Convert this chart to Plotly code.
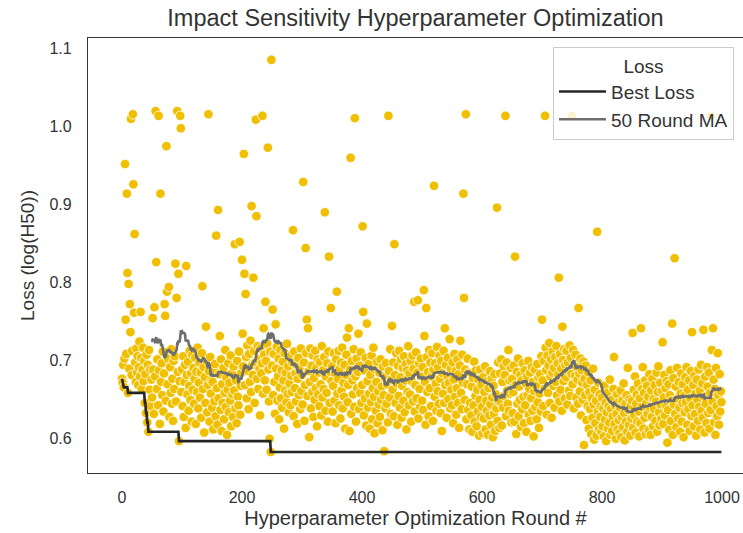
import pandas as pd
import plotly.graph_objects as go

# Loss per hyperparameter optimization round
loss = [
    0.676, 0.671, 0.694, 0.665, 0.702, 0.952, 0.752, 0.708, 0.914, 0.812,
    0.658, 0.798, 0.689, 0.772, 0.736, 1.010, 0.681, 0.712, 1.016, 0.926,
    0.761, 0.862, 0.697, 0.672, 0.715, 0.684, 0.705, 0.668, 0.691, 0.724,
    0.679, 0.762, 0.703, 0.663, 0.688, 0.716, 0.673, 0.699, 0.645, 0.682,
    0.632, 0.707, 0.620, 0.694, 0.608, 0.713, 0.662, 0.688, 0.641, 0.675,
    0.652, 0.754, 0.688, 0.631, 0.768, 0.679, 1.020, 0.826, 0.663, 0.701,
    0.642, 1.014, 0.687, 0.618, 0.914, 0.672, 0.696, 0.655, 0.711, 0.634,
    0.683, 0.772, 0.757, 0.648, 0.975, 0.788, 0.669, 0.702, 0.794, 0.627,
    0.691, 0.658, 0.714, 0.644, 0.676, 0.622, 0.699, 0.663, 0.705, 0.824,
    0.647, 0.780, 1.020, 0.685, 0.811, 0.596, 0.673, 1.014, 0.998, 0.659,
    0.688, 0.641, 0.705, 0.627, 0.672, 0.694, 0.613, 0.821, 0.681, 0.656,
    0.698, 0.635, 0.667, 0.712, 0.649, 0.683, 0.621, 0.707, 0.662, 0.690,
    0.644, 0.676, 0.703, 0.618, 0.685, 0.659, 0.716, 0.638, 0.671, 0.697,
    0.652, 0.684, 0.626, 0.709, 0.795, 0.663, 0.691, 0.607, 0.678, 0.645,
    0.743, 0.699, 0.633, 0.668, 1.016, 0.686, 0.621, 0.704, 0.657, 0.674,
    0.639, 0.672, 0.611, 0.688, 0.647, 0.695, 0.628, 0.860, 0.664, 0.617,
    0.893, 0.651, 0.682, 0.731, 0.636, 0.701, 0.609, 0.669, 0.645, 0.690,
    0.624, 0.658, 0.713, 0.640, 0.677, 0.604, 0.662, 0.696, 0.633, 0.671,
    0.648, 0.706, 0.615, 0.683, 0.656, 0.627, 0.692, 0.661, 0.849, 0.638,
    0.674, 0.619, 0.699, 0.653, 0.642, 0.711, 0.852, 0.630, 0.667, 0.684,
    0.829, 0.734, 0.692, 0.965, 0.811, 0.668, 0.785, 0.704, 0.651, 0.719,
    0.686, 0.637, 0.708, 0.672, 0.725, 0.659, 0.898, 0.694, 0.681, 0.806,
    0.712, 0.645, 0.697, 1.009, 0.885, 0.676, 0.718, 0.663, 0.701, 0.689,
    0.629, 0.715, 0.683, 0.696, 1.014, 0.657, 0.741, 0.707, 0.674, 0.775,
    0.699, 0.662, 0.721, 0.973, 0.688, 0.647, 0.599, 0.711, 0.582, 1.086,
    0.693, 0.765, 0.655, 0.708, 0.672, 0.631, 0.746, 0.689, 0.717, 0.648,
    0.679, 0.702, 0.624, 0.665, 0.713, 0.651, 0.687, 0.639, 0.698, 0.674,
    0.612, 0.709, 0.661, 0.684, 0.646, 0.721, 0.657, 0.692, 0.633, 0.670,
    0.705, 0.642, 0.680, 0.659, 0.697, 0.867, 0.628, 0.711, 0.664, 0.683,
    0.647, 0.694, 0.618, 0.676, 0.703, 0.655, 0.688, 0.637, 0.715, 0.660,
    0.681, 0.643, 0.929, 0.697, 0.622, 0.668, 0.844, 0.709, 0.752, 0.654,
    0.741, 0.686, 0.601, 0.672, 0.715, 0.638, 0.693, 0.659, 0.706, 0.627,
    0.677, 0.649, 0.712, 0.664, 0.690, 0.615, 0.701, 0.656, 0.684, 0.641,
    0.698, 0.669, 0.629, 0.718, 0.652, 0.687, 0.663, 0.704, 0.890, 0.635,
    0.679, 0.658, 0.696, 0.621, 0.711, 0.833, 0.645, 0.685, 0.767, 0.673,
    0.692, 0.634, 0.667, 0.709, 0.648, 0.683, 0.619, 0.701, 0.788, 0.657,
    0.676, 0.712, 0.642, 0.689, 0.625, 0.697, 0.661, 0.716, 0.638, 0.671,
    0.653, 0.694, 0.612, 0.681, 0.707, 0.729, 0.646, 0.668, 0.741, 0.609,
    0.688, 0.960, 0.631, 0.699, 0.674, 0.656, 0.714, 0.640, 1.011, 0.679,
    0.621, 0.702, 0.664, 0.685, 0.734, 0.637, 0.693, 0.658, 0.710, 0.645,
    0.668, 0.872, 0.762, 0.629, 0.687, 0.651, 0.703, 0.616, 0.747, 0.673,
    0.639, 0.695, 0.657, 0.612, 0.681, 0.646, 0.706, 0.624, 0.664, 0.716,
    0.653, 0.606, 0.688, 0.635, 0.672, 0.698, 0.619, 0.660, 0.643, 0.684,
    0.627, 0.701, 0.649, 0.666, 0.610, 0.692, 0.655, 0.583, 0.678, 0.638,
    0.696, 0.644, 0.669, 0.620, 1.014, 0.686, 0.652, 0.714, 0.631, 0.675,
    0.744, 0.662, 0.697, 0.628, 0.849, 0.681, 0.645, 0.709, 0.670, 0.617,
    0.693, 0.654, 0.712, 0.639, 0.678, 0.701, 0.626, 0.667, 0.690, 0.648,
    0.705, 0.633, 0.674, 0.695, 0.611, 0.687, 0.659, 0.718, 0.642, 0.683,
    0.656, 0.699, 0.621, 0.673, 0.706, 0.647, 0.689, 0.775, 0.634, 0.668,
    0.710, 0.651, 0.684, 0.777, 0.625, 0.696, 0.663, 0.640, 0.702, 0.679,
    0.648, 0.691, 0.636, 0.790, 0.731, 0.672, 0.617, 0.767, 0.704, 0.659,
    0.685, 0.628, 0.713, 0.664, 0.697, 0.641, 0.679, 0.709, 0.622, 0.688,
    0.924, 0.653, 0.696, 0.670, 0.635, 0.717, 0.660, 0.691, 0.644, 0.706,
    0.676, 0.632, 0.699, 0.609, 0.683, 0.657, 0.712, 0.645, 0.741, 0.668,
    0.694, 0.626, 0.680, 0.703, 0.650, 0.671, 0.727, 0.638, 0.689, 0.662,
    0.642, 0.697, 0.619, 0.675, 0.708, 0.653, 0.686, 0.630, 0.664, 0.701,
    0.645, 0.682, 0.613, 0.693, 0.725, 0.658, 0.637, 0.707, 0.671, 0.914,
    0.780, 0.649, 0.688, 1.016, 0.624, 0.669, 0.702, 0.636, 0.684, 0.611,
    0.645, 0.683, 0.629, 0.666, 0.608, 0.677, 0.642, 0.698, 0.621, 0.654,
    0.687, 0.615, 0.662, 0.634, 0.675, 0.603, 0.649, 0.688, 0.627, 0.668,
    0.640, 0.606, 0.678, 0.625, 0.659, 0.692, 0.611, 0.648, 0.635, 0.673,
    0.604, 0.664, 0.629, 0.686, 0.643, 0.617, 0.676, 0.652, 0.601, 0.667,
    0.631, 0.682, 0.609, 0.656, 0.638, 0.896, 0.622, 0.697, 0.646, 0.613,
    0.683, 0.646, 0.701, 0.616, 0.672, 0.639, 0.692, 0.654, 0.681, 1.014,
    0.628, 0.697, 0.661, 0.644, 0.713, 0.635, 0.674, 0.657, 0.690, 0.620,
    0.676, 0.632, 0.659, 0.693, 0.621, 0.833, 0.668, 0.605, 0.685, 0.644,
    0.702, 0.628, 0.666, 0.649, 0.681, 0.614, 0.674, 0.637, 0.696, 0.653,
    0.619, 0.687, 0.642, 0.670, 0.608, 0.679, 0.655, 0.699, 0.630, 0.663,
    0.684, 0.622, 0.651, 0.691, 0.635, 0.672, 0.602, 0.660, 0.688, 0.640,
    0.667, 0.624, 0.695, 0.646, 0.678, 0.613, 0.657, 0.682, 0.634, 0.705,
    0.752, 0.674, 0.641, 0.699, 0.663, 1.014, 0.716, 0.687, 0.630, 0.706,
    0.658, 0.693, 0.722, 0.645, 0.679, 0.701, 0.626, 0.684, 0.711, 0.667,
    0.690, 0.639, 0.704, 0.672, 0.718, 0.655, 0.696, 0.681, 0.806, 0.647,
    0.708, 0.662, 0.689, 0.635, 0.743, 0.700, 0.673, 0.714, 0.651, 0.694,
    0.678, 0.712, 0.643, 0.697, 0.686, 0.661, 0.719, 0.654, 0.703, 0.682,
    1.014, 0.669, 0.713, 0.638, 0.695, 0.680, 0.707, 0.652, 0.691, 0.675,
    0.644, 0.767, 0.683, 0.660, 0.702, 0.629, 0.687, 0.671, 0.649, 0.698,
    0.591, 0.676, 0.655, 0.693, 0.623, 0.668, 0.641, 0.684, 0.612, 0.659,
    0.637, 0.674, 0.605, 0.651, 0.626, 0.689, 0.643, 0.598, 0.662, 0.619,
    0.648, 0.603, 0.865, 0.634, 0.671, 0.611, 0.656, 0.627, 0.640, 0.608,
    0.652, 0.615, 0.638, 0.602, 0.667, 0.624, 0.645, 0.596, 0.633, 0.658,
    0.612, 0.641, 0.620, 0.675, 0.604, 0.637, 0.649, 0.609, 0.628, 0.663,
    0.704, 0.618, 0.642, 0.599, 0.631, 0.656, 0.611, 0.646, 0.623, 0.606,
    0.639, 0.661, 0.601, 0.627, 0.648, 0.614, 0.670, 0.632, 0.597, 0.644,
    0.621, 0.655, 0.608, 0.690, 0.636, 0.617, 0.650, 0.603, 0.642, 0.625,
    0.648, 0.735, 0.613, 0.662, 0.629, 0.679, 0.607, 0.644, 0.656, 0.621,
    0.670, 0.634, 0.602, 0.651, 0.619, 0.741, 0.640, 0.663, 0.691, 0.612,
    0.658, 0.626, 0.674, 0.605, 0.645, 0.667, 0.631, 0.653, 0.610, 0.682,
    0.639, 0.604, 0.661, 0.627, 0.676, 0.615, 0.650, 0.637, 0.668, 0.622,
    0.647, 0.684, 0.608, 0.659, 0.692, 0.633, 0.616, 0.671, 0.643, 0.625,
    0.660, 0.723, 0.618, 0.652, 0.681, 0.629, 0.664, 0.640, 0.673, 0.594,
    0.636, 0.669, 0.611, 0.655, 0.687, 0.622, 0.648, 0.747, 0.604, 0.677,
    0.643, 0.831, 0.631, 0.666, 0.614, 0.690, 0.650, 0.625, 0.672, 0.639,
    0.608, 0.657, 0.683, 0.621, 0.645, 0.669, 0.601, 0.654, 0.633, 0.678,
    0.646, 0.691, 0.617, 0.662, 0.637, 0.674, 0.609, 0.651, 0.686, 0.628,
    0.736, 0.642, 0.668, 0.615, 0.680, 0.631, 0.657, 0.603, 0.675, 0.649,
    0.622, 0.688, 0.640, 0.661, 0.611, 0.694, 0.635, 0.670, 0.626, 0.739,
    0.653, 0.607, 0.679, 0.644, 0.619, 0.691, 0.666, 0.632, 0.684, 0.612,
    0.658, 0.636, 1.014, 0.713, 0.647, 0.741, 0.675, 0.620, 0.663, 0.604,
    0.690, 0.641, 0.628, 0.709, 0.655, 0.617, 0.682, 0.634, 0.660, 0.646,
]
rounds = list(range(len(loss)))

x_ticks = [0, 200, 400, 600, 800, 1000]
y_ticks = [0.6, 0.7, 0.8, 0.9, 1.0, 1.1]

df = pd.DataFrame({"round": rounds, "loss": loss})
df["best"] = df["loss"].cummin()
df["ma"] = df["loss"].rolling(50).mean()

TXT = "#333333"
FONT = "Liberation Sans, Arial, sans-serif"

fig = go.Figure()
fig.add_trace(go.Scatter(
    x=df["round"], y=df["loss"], mode="markers", showlegend=False,
    marker=dict(color="#EFBF00", size=9.5, line=dict(color="white", width=0.8)),
))
fig.add_trace(go.Scatter(
    x=df["round"], y=df["best"], mode="lines", name="Best Loss",
    line=dict(color="#262626", width=2.6),
))
fig.add_trace(go.Scatter(
    x=df["round"], y=df["ma"], mode="lines", name="50 Round MA",
    line=dict(color="#6e6e6e", width=2.6),
))

fig.update_layout(
    width=743, height=533,
    margin=dict(l=88, r=0, t=38, b=60, autoexpand=False),
    paper_bgcolor="white", plot_bgcolor="white",
    font=dict(family=FONT, color=TXT, size=17),
    title=dict(text="Impact Sensitivity Hyperparameter Optimization",
               x=(88 + 743) / 2 / 743, xanchor="center",
               y=1 - 18 / 533, yanchor="middle",
               font=dict(size=23.5, color=TXT, family=FONT)),
    legend=dict(
        x=(553 - 88) / 655, xanchor="left", y=(473 - 47) / 435, yanchor="top",
        bgcolor="rgba(255,255,255,0.8)", bordercolor="#cccccc", borderwidth=1,
        font=dict(size=19, color=TXT, family=FONT),
        title=dict(text="Loss", side="top center", font=dict(size=19, color=TXT)),
        itemwidth=47,
    ),
)
fig.update_xaxes(
    range=[-56.7, 1035], tickvals=x_ticks, ticktext=[str(v) for v in x_ticks],
    showgrid=False, zeroline=False, showline=True, linecolor="#333333",
    linewidth=1.3, mirror=True, ticks="", ticklabelstandoff=10,
    ticklabeloverflow="allow",
    tickfont=dict(size=16, color=TXT),
    title=dict(text="Hyperparameter Optimization Round #", standoff=5,
               font=dict(size=20, color=TXT)),
)
fig.update_yaxes(
    range=[0.555, 1.114], tickvals=y_ticks, tickformat=".1f",
    showgrid=False, zeroline=False, showline=True, linecolor="#333333",
    linewidth=1.3, mirror=False, ticks="", ticklabelstandoff=12,
    tickfont=dict(size=16, color=TXT),
    title=dict(text="Loss (log(H50))", standoff=9,
               font=dict(size=19, color=TXT)),
)

fig.write_html("out.html", config={"displayModeBar": False},
               post_script="document.body.style.margin='0';")
